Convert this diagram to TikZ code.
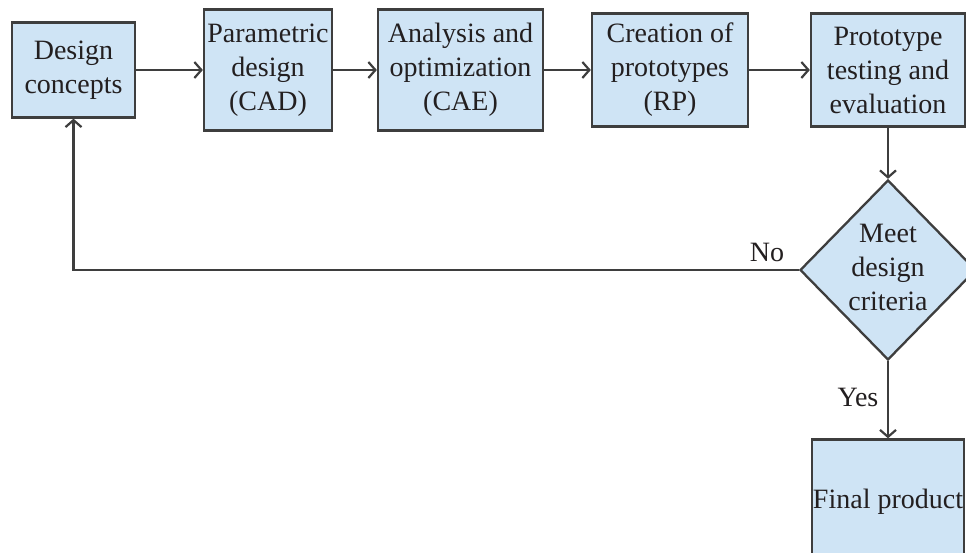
\documentclass[tikz,border=0pt]{standalone}
\usepackage{fontspec}
\setmainfont{Liberation Serif}
\usepackage{tikz}
\usetikzlibrary{arrows.meta,shapes.geometric}
\definecolor{boxblue}{RGB}{207,228,245}
\definecolor{linegray}{RGB}{62,62,62}
\definecolor{inkblack}{RGB}{35,31,32}

\begin{document}
\begin{tikzpicture}[x=1pt,y=-1pt,
	box/.style={draw=linegray,line width=2.3pt,fill=boxblue,align=center,inner sep=0pt,text=inkblack,font=\fontsize{28}{34}\selectfont},
	flow/.style={draw=linegray,line width=2.2pt,-{Straight Barb[length=7pt,width=16pt]}},
	lbl/.style={text=inkblack,font=\fontsize{28}{34}\selectfont}]
	\useasboundingbox (0,0) rectangle (966,553);
	%
	\node[box,minimum width=123,minimum height=95]  (dc) at (73.5,70) {Design\\concepts};
	\node[box,minimum width=128,minimum height=121] (pd) at (268,70)  {Parametric\\design\\(CAD)};
	\node[box,minimum width=165,minimum height=121] (ao) at (460.5,70) {Analysis and\\optimization\\(CAE)};
	\node[box,minimum width=156,minimum height=113] (cp) at (670,70)  {Creation of\\prototypes\\(RP)};
	\node[box,minimum width=154,minimum height=113] (pt) at (888,70)  {Prototype\\testing and\\evaluation};
	%
	\node[box,diamond,minimum width=176,minimum height=180] (md) at (888,270) {};
	\node[lbl,align=center] (mdtext) at (888,267) {Meet\\design\\criteria};
	\node[box,minimum width=152,minimum height=125] (fp) at (888,502) {Final product};
	%
	\draw[flow] (dc) -- (pd);
	\draw[flow] (pd) -- (ao);
	\draw[flow] (ao) -- (cp);
	\draw[flow] (cp) -- (pt);
	\draw[flow] (pt) -- (md);
	\draw[flow] (md) -- (fp);
	\draw[flow] (md.west) -| (dc.south);
	%
	\node[lbl] (no)  at (767,252) {No};
	\node[lbl] (yes) at (858,397) {Yes};
\end{tikzpicture}
\end{document}
